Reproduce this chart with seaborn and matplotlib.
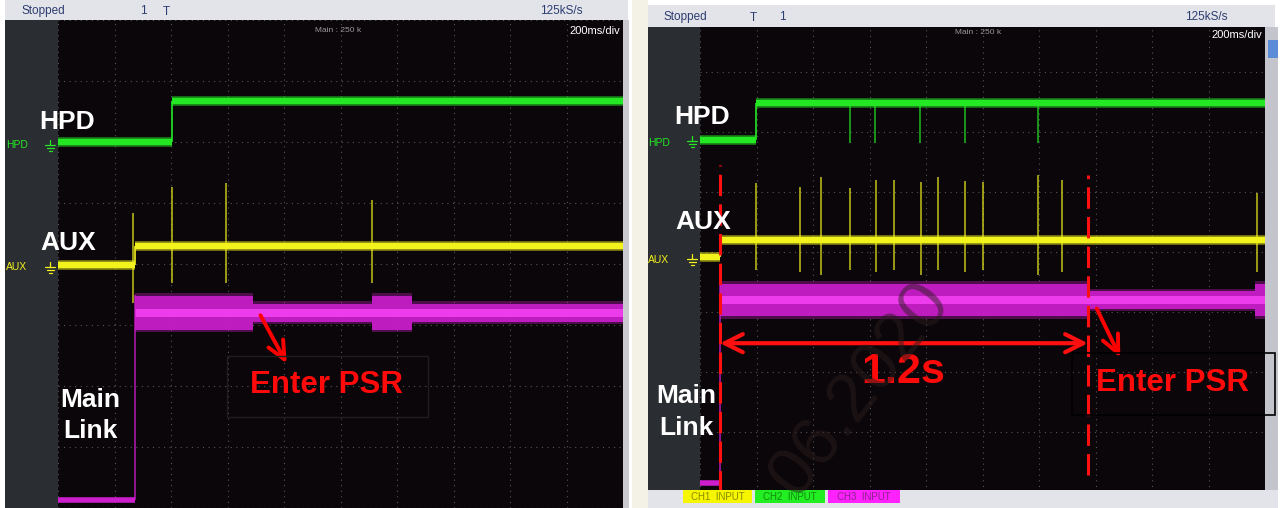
import numpy as np
import pandas as pd
import matplotlib
matplotlib.use("Agg")
import matplotlib.pyplot as plt
import seaborn as sns
from matplotlib.patches import Rectangle
from matplotlib.lines import Line2D

W, H = 1280, 508

# ---- values read off the two scope captures (time in s, level in divisions) ----
# left capture
L_HPD_STEP = 0.404
L_HPD_LEVELS = [6.0, 6.67]
L_AUX_STEP = 0.273
L_AUX_LEVELS = [3.98, 4.30]
L_AUX_SPIKE_T = [0.265, 0.404, 0.595, 1.112]
L_AUX_SPIKE_TOP = [4.84, 5.26, 5.33, 5.05]
L_AUX_SPIKE_BOT = [3.36, 3.69, 3.69, 3.69]
L_MAIN_IDLE = 0.13
L_MAIN_LEVEL = 3.20
L_MAIN_EDGES = [0.273, 0.690, 1.112, 1.253, 2.0]
L_MAIN_HALF = [0.28, 0.15, 0.28, 0.15]

# right capture
R_HPD_STEP = 0.198
R_HPD_LEVELS = [5.87, 6.48]
R_HPD_GLITCH_T = [0.531, 0.619, 0.779, 0.938, 1.196]
R_HPD_GLITCH_BOT = 5.82
R_AUX_STEP = 0.071
R_AUX_LEVELS = [3.92, 4.20]
R_AUX_SPIKE_T = [0.198, 0.354, 0.428, 0.531, 0.623, 0.687, 0.782, 0.842, 0.938, 1.002, 1.196, 1.281, 1.972]
R_AUX_SPIKE_TOP = [5.15, 5.08, 5.25, 5.07, 5.20, 5.20, 5.17, 5.25, 5.18, 5.17, 5.28, 5.20, 4.98]
R_AUX_SPIKE_BOT = [3.70, 3.67, 3.62, 3.70, 3.67, 3.70, 3.62, 3.70, 3.67, 3.70, 3.62, 3.67, 3.67]
R_MAIN_IDLE = 0.15
R_MAIN_LEVEL = 3.20
R_MAIN_EDGES = [0.071, 1.373, 1.965, 2.0]
R_MAIN_HALF = [0.27, 0.15, 0.27]
R_MARKER_T = [0.071, 1.373]
R_MARKER_TOP = [5.45, 5.28]
R_MARKER_BOT = [0.0, 0.28]
R_SPAN_LEVEL = 2.48

COLORS = {"HPD": "#25e825", "AUX": "#f2f21c"}
MAGENTA, MAGENTA_CORE = "#cc1ecc", "#ec3cec"
SCREEN, COLUMN, BAR = "#0b0609", "#2a2d31", "#e3e3ea"

sns.set_theme(style="dark")
plt.rcParams["font.family"] = ["Liberation Sans", "DejaVu Sans"]

fig = plt.figure(figsize=(W / 100, H / 100), dpi=100, facecolor="white")


def rect(x0, y0, x1, y1):
    return [x0 / W, 1 - y1 / H, (x1 - x0) / W, (y1 - y0) / H]


def px(x, y):
    return x / W, 1 - y / H


def block(x0, y0, x1, y1, color):
    a = fig.add_axes(rect(x0, y0, x1, y1))
    a.set_facecolor(color)
    a.set_xticks([]); a.set_yticks([])
    for s in a.spines.values():
        s.set_visible(False)
    return a


def scope_axes(x0, y0, x1, y1):
    ax = fig.add_axes(rect(x0, y0, x1, y1))
    ax.set_facecolor(SCREEN)
    ax.set_xlim(0, 2.0)
    ax.set_ylim(0, 8)
    ax.set_xticks(np.arange(0, 2.01, 0.2))
    ax.set_yticks(np.arange(0, 9))
    ax.tick_params(length=0, labelbottom=False, labelleft=False)
    ax.grid(True, color="#555555", linestyle=(0, (1, 4)), linewidth=0.8)
    for s in ax.spines.values():
        s.set_visible(False)
    return ax


def step_frame(hpd_step, hpd_lv, aux_step, aux_lv):
    # one row pair per flat segment; the edge itself is drawn thin afterwards
    rows = []
    for ch, st, lv in (("HPD", hpd_step, hpd_lv), ("AUX", aux_step, aux_lv)):
        for seg, (t0, t1, v) in enumerate(((0.0, st, lv[0]), (st, 2.0, lv[1]))):
            rows.append({"ch": ch, "seg": f"{ch}{seg}", "t": t0, "v": v})
            rows.append({"ch": ch, "seg": f"{ch}{seg}", "t": t1, "v": v})
    return pd.DataFrame(rows)


def draw_traces(ax, df):
    # soft halo + solid core, like the noisy scope trace
    for lw, alpha in ((7, 0.5), (4.6, 1.0)):
        sns.lineplot(data=df, x="t", y="v", hue="ch", units="seg", estimator=None, sort=False,
                     palette=COLORS, linewidth=lw, alpha=alpha, legend=False, ax=ax,
                     solid_capstyle="butt")
    ax.set_xlabel(""); ax.set_ylabel("")
    for ch, g in df.groupby("ch"):
        edge = g["t"].iloc[1]
        ax.vlines(edge, g["v"].min(), g["v"].max(), color=COLORS[ch], lw=1.2)


def draw_main(ax, step_t, idle, level, edges, halves):
    ax.plot([0, step_t], [idle, idle], color=MAGENTA, lw=4, solid_capstyle="butt")
    ax.vlines(step_t, idle, level + 0.3, color=MAGENTA, lw=1.2, alpha=0.8)
    for t0, t1, h in zip(edges[:-1], edges[1:], halves):
        ax.fill_between([t0, t1], level - h - 0.04, level + h + 0.04, color=MAGENTA, alpha=0.35, lw=0)
        ax.fill_between([t0, t1], level - h, level + h, color=MAGENTA, alpha=0.9, lw=0)
        ax.fill_between([t0, t1], level - 0.07, level + 0.07, color=MAGENTA_CORE, lw=0)


def ground(x, y, color):
    for dx, dy in ((5, 0), (3.5, 3), (1.5, 6)):
        fig.add_artist(Line2D([(x - dx) / W, (x + dx) / W], [1 - (y + dy) / H] * 2,
                              color=color, lw=0.9))
    fig.add_artist(Line2D([x / W] * 2, [1 - (y - 5) / H, 1 - y / H], color=color, lw=0.9))


# ================= left capture =================
axL = scope_axes(58, 20, 623, 508)
draw_main(axL, L_AUX_STEP, L_MAIN_IDLE, L_MAIN_LEVEL, L_MAIN_EDGES, L_MAIN_HALF)
axL.vlines(L_AUX_SPIKE_T, L_AUX_SPIKE_BOT, L_AUX_SPIKE_TOP, color=COLORS["AUX"], lw=1.1, alpha=0.8)
draw_traces(axL, step_frame(L_HPD_STEP, L_HPD_LEVELS, L_AUX_STEP, L_AUX_LEVELS))
axL.annotate("", xy=(0.814, 2.33), xytext=(0.712, 3.20),
             arrowprops=dict(arrowstyle="->,head_length=1.3,head_width=0.6", color="#ff0000",
                             lw=2.8, mutation_scale=10))
block(5, 0, 628, 20, BAR)
block(5, 20, 58, 508, COLUMN)
block(623, 20, 629, 508, "#c9c9cf")
block(632, 0, 648, 508, "#f4f1e6")

# ================= right capture =================
axR = scope_axes(700, 12, 1265, 492)
draw_main(axR, R_AUX_STEP, R_MAIN_IDLE, R_MAIN_LEVEL, R_MAIN_EDGES, R_MAIN_HALF)
axR.vlines(R_AUX_SPIKE_T, R_AUX_SPIKE_BOT, R_AUX_SPIKE_TOP, color=COLORS["AUX"], lw=1.1, alpha=0.8)
axR.vlines(R_HPD_GLITCH_T, R_HPD_GLITCH_BOT, R_HPD_LEVELS[1], color=COLORS["HPD"], lw=1.1, alpha=0.8)
draw_traces(axR, step_frame(R_HPD_STEP, R_HPD_LEVELS, R_AUX_STEP, R_AUX_LEVELS))
for t, top, bot in zip(R_MARKER_T, R_MARKER_TOP, R_MARKER_BOT):
    axR.vlines(t, bot, top, color="#ff1010", lw=2.2, linestyles=(0, (7, 2.7)))
axR.annotate("", xy=(R_MARKER_T[1], R_SPAN_LEVEL), xytext=(R_MARKER_T[0], R_SPAN_LEVEL),
             arrowprops=dict(arrowstyle="<->,head_length=1.3,head_width=0.65", color="#ff1010",
                             lw=3, mutation_scale=10, shrinkA=0, shrinkB=0))
axR.annotate("", xy=(1.492, 2.2), xytext=(1.400, 3.10),
             arrowprops=dict(arrowstyle="->,head_length=1.3,head_width=0.6", color="#ff0000",
                             lw=2.8, mutation_scale=10))
block(648, 5, 1275, 27, BAR)
block(648, 27, 700, 492, COLUMN)
block(1265, 27, 1278, 492, "#c4c4cc")
block(1268, 40, 1278, 58, "#5c8cd8")
block(648, 490, 1278, 508, BAR)

# scope chrome texts
navy = "#2c3d70"
for x, y, s in ((22, 11, "Stopped"), (140, 11, "1"), (163, 12, "T"), (540, 11, "125kS/s"),
                (663, 17, "Stopped"), (750, 18, "T"), (779, 17, "1"), (1185, 17, "125kS/s")):
    fig.text(*px(x, y), s, color=navy, fontsize=8.5, ha="left", va="center", zorder=5)
for x, y in ((338, 30), (978, 33)):
    fig.text(*px(x, y), "Main : 250 k", color="#9a9a9a", fontsize=6, ha="center", va="center")
for x, y in ((620, 31), (1262, 35)):
    fig.text(*px(x, y), "200ms/div", color="white", fontsize=8, ha="right", va="center")
for x, yh, ya in ((6, 145, 267), (648, 143, 260)):
    fig.text(*px(x, yh), "HPD", color=COLORS["HPD"], fontsize=7.5, ha="left", va="center")
    fig.text(*px(x, ya), "AUX", color=COLORS["AUX"], fontsize=7.5, ha="left", va="center")
ground(50, 145, COLORS["HPD"]); ground(50, 267, COLORS["AUX"])
ground(692, 141, COLORS["HPD"]); ground(692, 259, COLORS["AUX"])

# white signal names
big = dict(color="white", fontsize=19, fontweight="bold", ha="center", va="center")
for x, y, s in ((67, 122, "HPD"), (68, 243, "AUX"), (90, 400, "Main"), (90, 431, "Link"),
                (702, 117, "HPD"), (703, 222, "AUX"), (686, 396, "Main"), (686, 428, "Link")):
    fig.text(*px(x, y), s, **big)

# red callouts
red = dict(color="#ff0a0a", fontweight="bold", ha="center", va="center")
fig.text(*px(327, 385), "Enter PSR", fontsize=22.5, **red)
fig.text(*px(1173, 383), "Enter PSR", fontsize=22.5, **red)
fig.text(*px(903, 372), "1.2s", fontsize=31, **red)
fig.add_artist(Rectangle(px(227, 417), 201 / W, 61 / H, transform=fig.transFigure,
                         fill=False, ec="#1e1e1e", lw=1))
fig.add_artist(Rectangle(px(1072, 415), 203 / W, 62 / H, transform=fig.transFigure,
                         fill=False, ec="black", lw=1.2))

# channel tags
for x0, x1, fc, tc, s in ((683, 752, "#f6f600", "#8a8a00", "CH1  INPUT"),
                          (755, 825, "#22ee22", "#128a12", "CH2  INPUT"),
                          (828, 900, "#ff22ff", "#8a228a", "CH3  INPUT")):
    fig.add_artist(Rectangle(px(x0, 503), (x1 - x0) / W, 13 / H, transform=fig.transFigure,
                             fc=fc, ec="none"))
    fig.text(*px((x0 + x1) / 2, 497), s, color=tc, fontsize=7, ha="center", va="center")

# faint watermark
fig.text(*px(860, 390), "06.2020", color="#2a1e1e", alpha=0.5, fontsize=50,
         rotation=52, ha="center", va="center")

fig.savefig("out.png", dpi=100, facecolor="white")
